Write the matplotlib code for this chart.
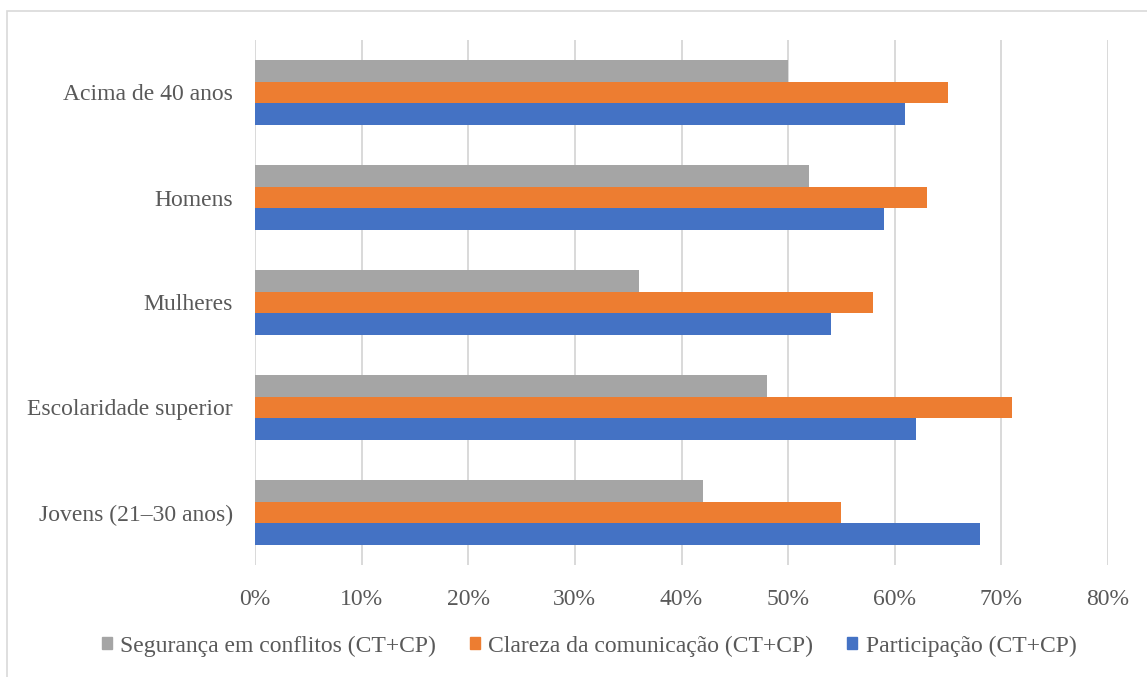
import numpy as np
import matplotlib.pyplot as plt
from matplotlib.patches import Rectangle, Patch
from matplotlib.ticker import PercentFormatter

plt.rcParams['font.family'] = ['Liberation Serif', 'DejaVu Serif']

categorias = ['Jovens (21–30 anos)', 'Escolaridade superior', 'Mulheres', 'Homens', 'Acima de 40 anos']
seguranca = [42, 48, 36, 52, 50]
clareza = [55, 71, 58, 63, 65]
participacao = [68, 62, 54, 59, 61]

series = ['Segurança em conflitos (CT+CP)', 'Clareza da comunicação (CT+CP)', 'Participação (CT+CP)']
cores = ['#A5A5A5', '#ED7D31', '#4472C4']

fig = plt.figure(figsize=(11.47, 6.77), dpi=100)
ax = fig.add_axes([255 / 1147, 1 - 565 / 677, (1108 - 255) / 1147, (565 - 40) / 677])

y = np.arange(len(categorias))
h = 0.205
ax.barh(y + h, seguranca, height=h, color=cores[0], zorder=3)
ax.barh(y, clareza, height=h, color=cores[1], zorder=3)
ax.barh(y - h, participacao, height=h, color=cores[2], zorder=3)

ax.set_xlim(0, 80)
ax.set_ylim(-0.5, len(categorias) - 0.5)
ax.set_xticks(np.arange(0, 81, 10))
ax.xaxis.set_major_formatter(PercentFormatter(decimals=0))
ax.set_yticks(y)
ax.set_yticklabels(categorias)
ax.grid(axis='x', color='#D9D9D9', linewidth=1.4, zorder=0)
for s in ax.spines.values():
    s.set_visible(False)
ax.tick_params(axis='both', length=0, labelsize=17, labelcolor='#595959')
ax.tick_params(axis='x', pad=17)
ax.tick_params(axis='y', pad=16)

handles = [Patch(color=c, label=l) for c, l in zip(cores, series)]
fig.legend(handles=handles, loc='center', bbox_to_anchor=(0.5135, 1 - 646 / 677), ncol=3,
           frameon=False, fontsize=17, labelcolor='#595959', handlelength=0.42, handleheight=0.42,
           handletextpad=0.35, columnspacing=1.45)

fig.patches.append(Rectangle((7 / 1147, -0.1), 1.2, (677 - 11) / 677 + 0.1, transform=fig.transFigure,
                             fill=False, edgecolor='#D9D9D9', linewidth=1.2))

fig.savefig('out.png', dpi=100)
